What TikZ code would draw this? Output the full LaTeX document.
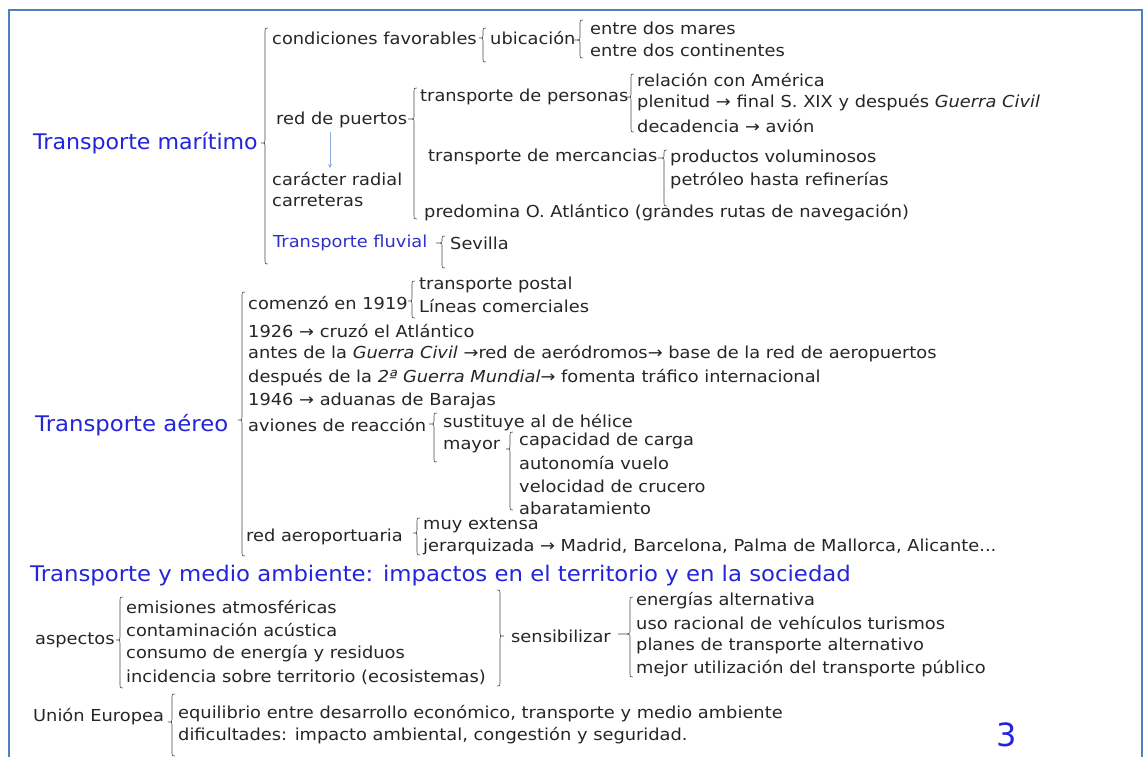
\documentclass[tikz,border=0pt]{standalone}
\usepackage{fontspec}
\setmainfont{DejaVu Sans}
\newfontfamily\bodyfont[FakeStretch=1.08]{DejaVu Sans}
\newfontfamily\headfont[FakeStretch=1.06]{DejaVu Sans}
\usetikzlibrary{arrows.meta}
\definecolor{frameblue}{HTML}{4F81BD}
\definecolor{headblue}{HTML}{2424D8}
\definecolor{fluvblue}{HTML}{3030C8}
\definecolor{arrowblue}{HTML}{8FA8DA}
\definecolor{ink}{HTML}{262626}
\tikzset{
  txt/.style={anchor=west, inner sep=0pt, font=\bodyfont\fontsize{16.5}{19}\selectfont, text=ink},
  head/.style={anchor=west, inner sep=0pt, font=\headfont\fontsize{21.5}{25}\selectfont, text=headblue},
  brl/.style={draw=ink!85, line width=0.6pt},
  arr/.style={draw=arrowblue, line width=0.8pt, -{Stealth[length=4pt,width=4pt]}},
}
% left brace "{" : [tip length] x, top, tip, bottom
\newcommand{\mybrL}[5][4]{%
  \draw[brl] ({#2+3},#3) .. controls (#2,#3) .. (#2,{#3+3}) -- (#2,{#4-3})
    .. controls (#2,#4) .. ({#2-#1},#4) .. controls (#2,#4) .. (#2,{#4+3})
    -- (#2,{#5-3}) .. controls (#2,#5) .. ({#2+3},#5);}
% right brace "}"
\newcommand{\mybrR}[5][4]{%
  \draw[brl] ({#2-3},#3) .. controls (#2,#3) .. (#2,{#3+3}) -- (#2,{#4-3})
    .. controls (#2,#4) .. ({#2+#1},#4) .. controls (#2,#4) .. (#2,{#4+3})
    -- (#2,{#5-3}) .. controls (#2,#5) .. ({#2-3},#5);}
\begin{document}
\begin{tikzpicture}[x=1pt,y=-1pt]
\useasboundingbox (0,0) rectangle (1147,756);
\begin{scope}
\clip (0,0) rectangle (1147,756);
\fill[white] (0,0) rectangle (1147,756);
\draw[frameblue, line width=2.5pt] (9,10) rectangle (1142,780);

% ---------- Transporte maritimo ----------
\node[head, xscale=0.97] (tm) at (33,143) {Transporte marítimo};
\mybrL{265}{28}{143}{264}
\node[txt] (cf) at (272,38) {condiciones favorables};
\mybrL{483}{28}{38}{62}
\node[txt] (ub) at (490,38) {ubicación};
\mybrL[8]{580}{20}{40}{58}
\node[txt] (edm) at (590,28) {entre dos mares};
\node[txt] (edc) at (590,50) {entre dos continentes};
\node[txt] (rp) at (276,120) {red de puertos};
\mybrL[6]{414}{88}{119}{219}
\node[txt] (tp) at (420,97) {transporte de personas};
\mybrL{631}{74}{97}{132}
\node[txt] (rca) at (637,80) {relación con América};
\node[txt] (ple) at (637,103) {plenitud → final S. XIX y después \textit{Guerra Civil}};
\node[txt] (dec) at (637,126) {decadencia → avión};
\node[txt] (tmerc) at (428,157) {transporte de mercancias};
\mybrL[6]{664}{150}{158}{206}
\node[txt] (pv) at (670,158) {productos voluminosos};
\node[txt] (pet) at (670,181) {petróleo hasta refinerías};
\node[txt] (crad) at (272,179) {carácter radial};
\node[txt] (carr) at (272,201) {carreteras};
\coordinate (arrx) at (330,0);
\draw[arr] ([yshift=-4pt]rp.south -| arrx) -- ([yshift=4pt]crad.north -| arrx);
\node[txt] (pred) at (424,213) {predomina O. Atlántico (grandes rutas de navegación)};
\node[txt, text=fluvblue] (tf) at (273,243) {Transporte fluvial};
\mybrL[6]{442}{236}{243}{268}
\node[txt] (sev) at (450,243) {Sevilla};

% ---------- Transporte aereo ----------
\node[head] (ta) at (35,425) {Transporte aéreo};
\mybrL{242}{292}{420}{556}
\node[txt] (c19) at (248,303) {comenzó en 1919};
\mybrL{412}{281}{301}{318}
\node[txt] (tpo) at (419,285) {transporte postal};
\node[txt] (lc) at (419,306) {Líneas comerciales};
\node[txt] (n26) at (248,331) {1926 → cruzó el Atlántico};
\node[txt] (ant) at (248,354) {antes de la \textit{Guerra Civil} →red de aeródromos→ base de la red de aeropuertos};
\node[txt] (des) at (248,378) {después de la \textit{2ª Guerra Mundial}→ fomenta tráfico internacional};
\node[txt] (n46) at (248,401) {1946 → aduanas de Barajas};
\node[txt] (avr) at (248,425) {aviones de reacción};
\mybrL[5]{434}{413}{424}{462}
\node[txt] (sus) at (443,423) {sustituye al de hélice};
\node[txt] (may) at (443,447) {mayor};
\mybrL{510}{432}{449}{510}
\node[txt] (cap) at (519,441) {capacidad de carga};
\node[txt] (aut) at (519,463) {autonomía vuelo};
\node[txt] (vel) at (519,486) {velocidad de crucero};
\node[txt] (aba) at (519,508) {abaratamiento};
\node[txt] (ra) at (246,537) {red aeroportuaria};
\mybrL{417}{518}{533}{555}
\node[txt] (me) at (423,525) {muy extensa};
\node[txt] (jer) at (423,547) {jerarquizada → Madrid, Barcelona, Palma de Mallorca, Alicante...};

% ---------- Transporte y medio ambiente ----------
\node[head] (tma) at (30,576) {Transporte y medio ambiente: impactos en el territorio y en la sociedad};
\node[txt] (asp) at (35,640) {aspectos};
\mybrL{120}{597}{640}{688}
\node[txt] (em) at (126,607) {emisiones atmosféricas};
\node[txt] (ca) at (126,630) {contaminación acústica};
\node[txt] (co) at (126,654) {consumo de energía y residuos};
\node[txt] (inc) at (126,677) {incidencia sobre territorio (ecosistemas)};
\mybrR{500}{590}{636}{686}
\node[txt] (sen) at (511,636) {sensibilizar};
\mybrL[12]{630}{597}{634}{677}
\node[txt] (ea) at (636,601) {energías alternativa};
\node[txt] (ur) at (636,623) {uso racional de vehículos turismos};
\node[txt] (pt) at (636,646) {planes de transporte alternativo};
\node[txt] (mu) at (636,669) {mejor utilización del transporte público};
\node[txt] (ue) at (33,717) {Unión Europea};
\mybrL{172}{694}{722}{756}
\node[txt] (eq) at (178,714) {equilibrio entre desarrollo económico, transporte y medio ambiente};
\node[txt] (dif) at (178,736) {dificultades: impacto ambiental, congestión y seguridad.};
\node[inner sep=0pt, font=\fontsize{32}{36}\selectfont, text=headblue] (num) at (1007,735) {3};
\end{scope}
\end{tikzpicture}
\end{document}
